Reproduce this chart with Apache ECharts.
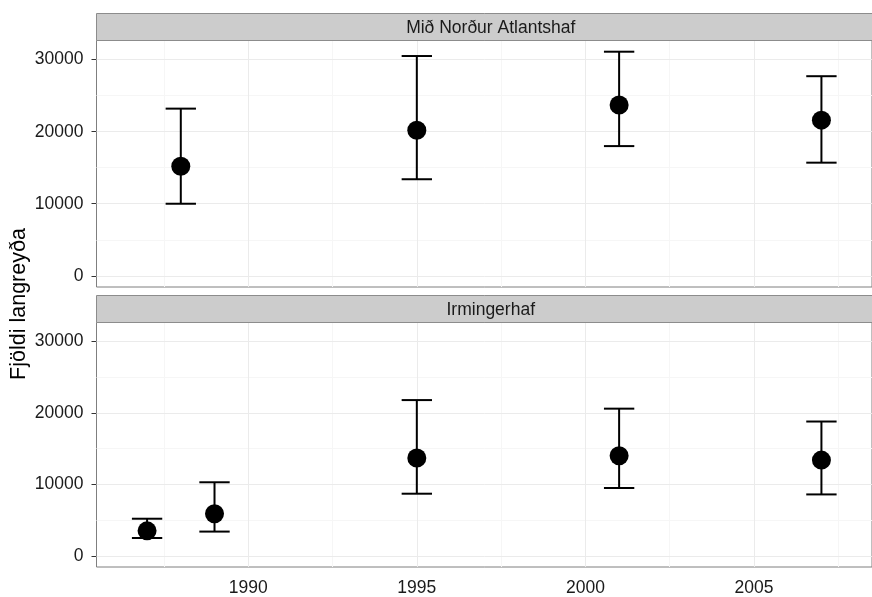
<!DOCTYPE html>
<html>
<head>
<meta charset="utf-8">
<script src="https://cdn.jsdelivr.net/npm/echarts@6/dist/echarts.min.js"></script>
<style>
  html, body { margin: 0; padding: 0; background: #ffffff; }
  #chart { width: 872px; height: 597px; }
</style>
</head>
<body>
<div id="chart"></div>
<script>
// Fin whale abundance estimates (point + confidence interval) per survey year
const panelNames = ['Mið Norður Atlantshaf', 'Irmingerhaf'];

const midYears = [1988, 1995, 2001, 2007];
const midEst   = [15200, 20200, 23700, 21600];
const midLow   = [10000, 13400, 18000, 15700];
const midHigh  = [23200, 30500, 31100, 27700];

const irmYears = [1987, 1989, 1995, 2001, 2007];
const irmEst   = [3500, 5900, 13700, 14000, 13400];
const irmLow   = [2500, 3400, 8700, 9500, 8600];
const irmHigh  = [5200, 10300, 21800, 20600, 18800];

const xTicks      = [1990, 1995, 2000, 2005];
const xMinorTicks = [1987.5, 1992.5, 1997.5, 2002.5, 2007.5];
const yTicks      = [0, 10000, 20000, 30000];
const yMinorTicks = [5000, 15000, 25000];

const yLabel = 'Fjöldi langreyða';

// shared scale limits (data range expanded a little on each side)
const xMin = 1985.5, xMax = 2008.5;
const yMin = -1555, yMax = 32655;
const capWidth = 0.9; // error-bar cap width in years

const FONT = '"Liberation Sans", Arial, sans-serif';
const panelLeft = 96.5, panelWidth = 788.5;
const panels = [
  { top: 40.5, height: 246.5, stripTop: 13.5 },
  { top: 322.5, height: 246.5, stripTop: 295.5 }
];

const chart = echarts.init(document.getElementById('chart'));

function gridLines() {
  const major = { color: '#ebebeb', width: 1, type: 'solid' };
  const minor = { color: '#f6f6f6', width: 1, type: 'solid' };
  const d = [];
  xMinorTicks.forEach(v => d.push({ xAxis: v, lineStyle: minor }));
  yMinorTicks.forEach(v => d.push({ yAxis: v, lineStyle: minor }));
  xTicks.forEach(v => d.push({ xAxis: v, lineStyle: major }));
  yTicks.forEach(v => d.push({ yAxis: v, lineStyle: major }));
  return {
    silent: true, symbol: 'none', z: 1, animation: false,
    label: { show: false }, emphasis: { disabled: true },
    data: d
  };
}

function errorBars(idx, years, low, high) {
  return {
    type: 'custom', xAxisIndex: idx, yAxisIndex: idx, z: 3, silent: true,
    data: years.map((y, i) => [y, low[i], high[i]]),
    renderItem(params, api) {
      const x = api.value(0);
      const top = api.coord([x, api.value(2)]);
      const bot = api.coord([x, api.value(1)]);
      const half = api.size([capWidth, 0])[0] / 2;
      const style = { stroke: '#000', lineWidth: 2 };
      return {
        type: 'group',
        children: [
          { type: 'line', shape: { x1: top[0], y1: top[1], x2: bot[0], y2: bot[1] }, style },
          { type: 'line', shape: { x1: top[0] - half, y1: top[1], x2: top[0] + half, y2: top[1] }, style },
          { type: 'line', shape: { x1: bot[0] - half, y1: bot[1], x2: bot[0] + half, y2: bot[1] }, style }
        ]
      };
    },
    markLine: gridLines()
  };
}

function points(idx, years, est) {
  return {
    type: 'scatter', xAxisIndex: idx, yAxisIndex: idx, z: 4, silent: true,
    symbol: 'circle', symbolSize: 19,
    itemStyle: { color: '#000', opacity: 1 },
    data: years.map((y, i) => [y, est[i]])
  };
}

const plain = v => String(v);

const option = {
  animation: false,
  backgroundColor: '#ffffff',
  grid: panels.map(p => ({
    left: panelLeft, width: panelWidth, top: p.top, height: p.height,
    show: true, backgroundColor: '#ffffff', borderColor: '#7f7f7f', borderWidth: 1
  })),
  xAxis: panels.map((p, i) => ({
    type: 'value', gridIndex: i, min: xMin, max: xMax,
    axisLine: { show: false },
    splitLine: { show: false },
    axisTick: {
      show: i === 1, customValues: xTicks, length: 5,
      lineStyle: { color: '#333', width: 1 }
    },
    axisLabel: {
      show: i === 1, customValues: xTicks, margin: 12, formatter: plain,
      color: '#1a1a1a', fontSize: 17.5, fontFamily: FONT
    }
  })),
  yAxis: panels.map((p, i) => ({
    type: 'value', gridIndex: i, min: yMin, max: yMax,
    axisLine: { show: false },
    splitLine: { show: false },
    axisTick: {
      show: true, customValues: yTicks, length: 5,
      lineStyle: { color: '#333', width: 1 }
    },
    axisLabel: {
      customValues: yTicks, margin: 13, formatter: plain,
      color: '#1a1a1a', fontSize: 17.5, fontFamily: FONT
    }
  })),
  graphic: [
    ...panels.map((p, i) => ({
      type: 'rect', z: 10, silent: true,
      shape: { x: panelLeft, y: p.stripTop, width: panelWidth, height: p.top - p.stripTop },
      style: { fill: '#cccccc', stroke: '#8c8c8c', lineWidth: 1 }
    })),
    ...panels.map((p, i) => ({
      type: 'text', z: 11, silent: true,
      x: panelLeft + panelWidth / 2, y: (p.stripTop + p.top) / 2 + 1,
      style: {
        text: panelNames[i], fill: '#1a1a1a', font: '17.5px ' + FONT,
        align: 'center', verticalAlign: 'middle'
      }
    })),
    {
      type: 'text', z: 11, silent: true,
      x: 19, y: 304, rotation: Math.PI / 2,
      style: {
        text: yLabel, fill: '#000', font: '21.5px ' + FONT,
        align: 'center', verticalAlign: 'middle'
      }
    }
  ],
  series: [
    errorBars(0, midYears, midLow, midHigh),
    points(0, midYears, midEst),
    errorBars(1, irmYears, irmLow, irmHigh),
    points(1, irmYears, irmEst)
  ]
};

chart.setOption(option);
</script>
</body>
</html>
